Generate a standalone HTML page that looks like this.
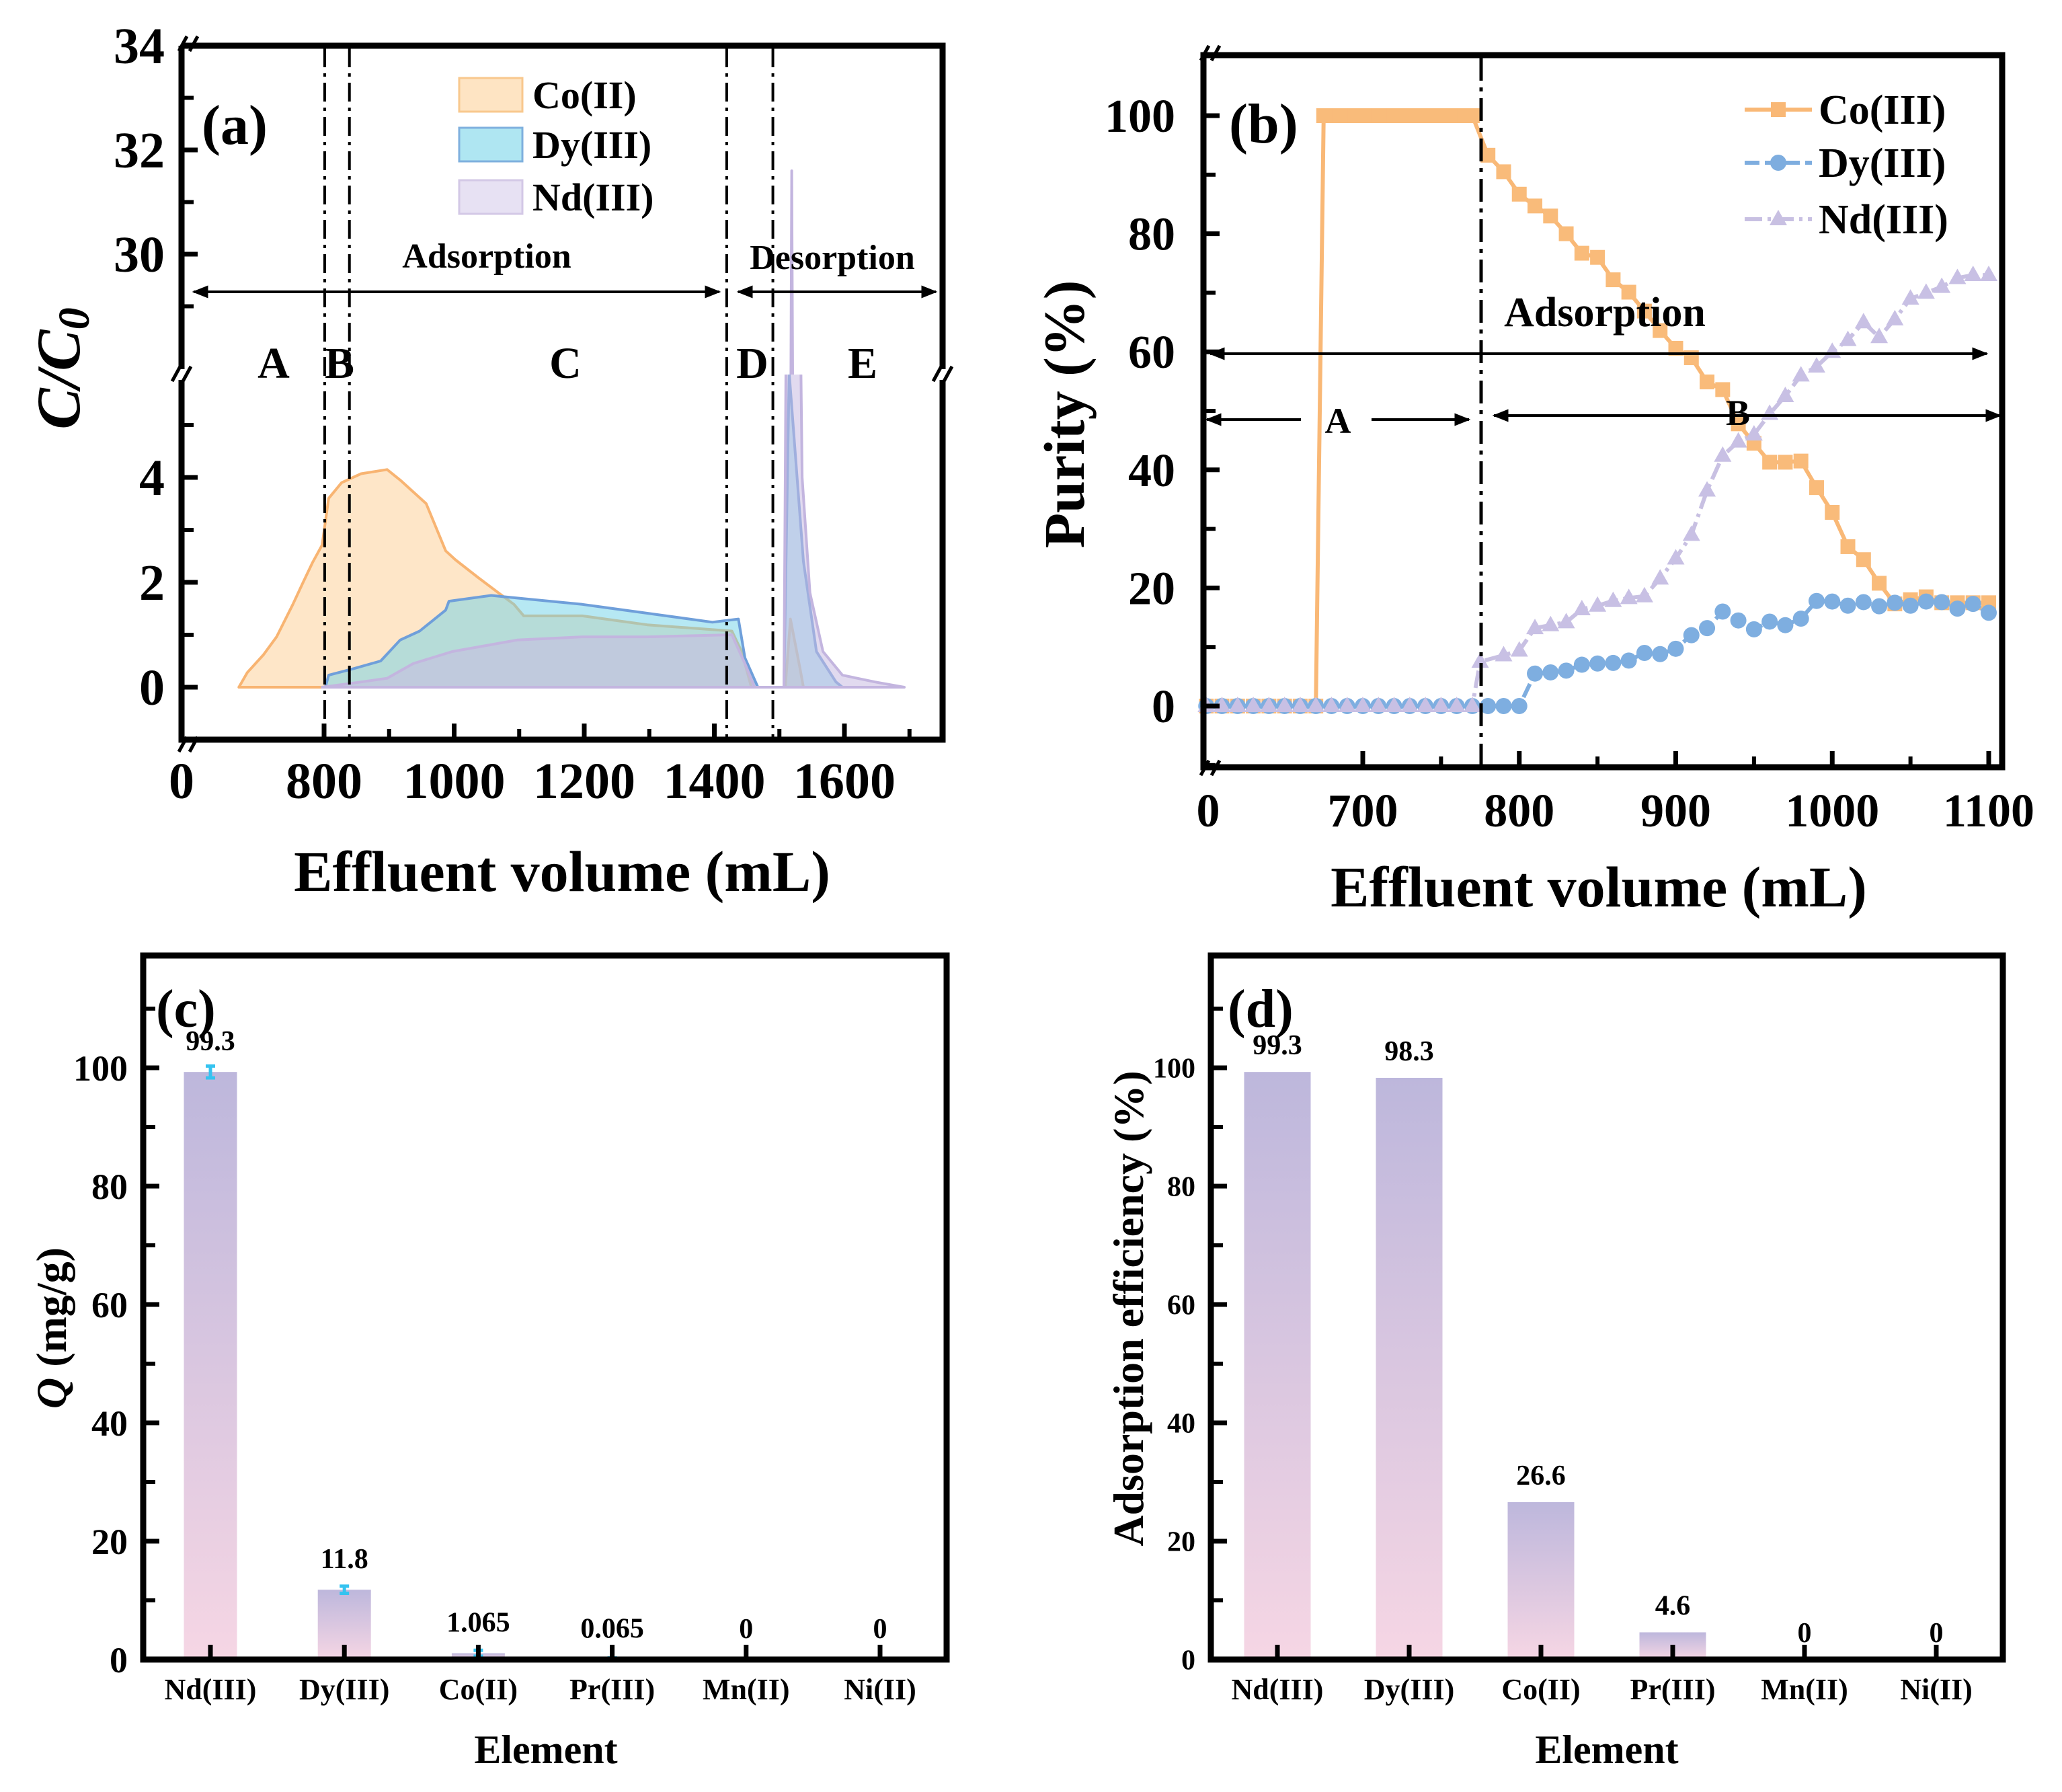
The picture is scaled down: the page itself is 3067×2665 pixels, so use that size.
<!DOCTYPE html>
<html><head><meta charset="utf-8"><style>
html,body{margin:0;padding:0;background:#fff}
svg{display:block}
text{font-family:"Liberation Serif",serif;font-weight:bold;fill:#000}
</style></head><body>
<svg id="fig" xmlns="http://www.w3.org/2000/svg" width="3067" height="2665" viewBox="0 0 3067 2665">
<defs>
<linearGradient id="barGrad" x1="0" y1="0" x2="0" y2="1">
<stop offset="0" stop-color="#bdb7dc"/><stop offset="1" stop-color="#f6d6e4"/>
</linearGradient>
<clipPath id="clipLow"><rect x="270" y="557" width="1132" height="543"/></clipPath>
<clipPath id="clipUp"><rect x="270" y="68" width="1132" height="489"/></clipPath>
<marker id="ah" viewBox="0 0 10 10" refX="9" refY="5" markerWidth="6" markerHeight="6" orient="auto-start-reverse"><path d="M0,1 L10,5 L0,9 z" fill="#000"/></marker>
</defs>
</svg>
<script>
// ---------- Panel (a) data ----------
const aCoX=[669,682,707,727,752,767,782,797,807,827,857,897,917,957,987,1002,1037,1067,1092,1107,1197,1297,1427,1442,1457,1509,1517,1532,1537];
const aCoY=[0,0.28,0.62,0.96,1.58,1.98,2.37,2.71,3.6,3.9,4.07,4.15,3.95,3.5,2.6,2.43,2.09,1.81,1.58,1.36,1.36,1.19,1.07,0.68,0,0,1.3,0.34,0];
const aDyX=[802,807,847,887,917,947,987,992,1057,1097,1197,1297,1397,1437,1447,1467,1507,1515,1537,1557,1587,1597];
const aDyY=[0,0.23,0.36,0.5,0.9,1.07,1.47,1.64,1.75,1.7,1.58,1.41,1.24,1.3,0.56,0,0,6.0,2.4,0.68,0.1,0];
const aNdX=[797,857,897,937,997,1097,1197,1297,1427,1447,1462,1507,1512,1519,1525,1535,1547,1567,1597,1647,1692];
const aNdY=[0,0.1,0.17,0.45,0.68,0.9,0.96,0.96,1.0,0.45,0,0,10,31.6,15,4,1.8,0.68,0.23,0.1,0];
const aXTicks=[800,1000,1200,1400,1600];
const aYLowTicks=[0,2,4];
const aYUpTicks=[30,32,34];
const aZones=[801,839,1419,1490];
// ---------- Panel (b) data ----------
const bCoX=[600,610,620,630,640,650,660,670,675,680,685,690,695,700,705,710,715,720,725,730,735,740,745,750,755,760,765,770,780,790,800,810,820,830,840,850,860,870,880,890,900,910,920,930,940,950,960,970,980,990,1000,1010,1020,1030,1040,1050,1060,1070,1080,1090,1100];
const bCoY=[0,0,0,0,0,0,0,0,100,100,100,100,100,100,100,100,100,100,100,100,100,100,100,100,100,100,100,100,93.3,90.5,86.7,84.7,83,80,76.7,76,72.2,70.1,66.9,63.6,60.6,59,54.9,53.6,47.8,44.5,41.3,41.3,41.5,37,32.8,27,24.8,20.8,17.3,18,18.5,17.5,17.5,17.5,17.5];
const bDyX=[600,610,620,630,640,650,660,670,680,690,700,710,720,730,740,750,760,770,780,790,800,810,820,830,840,850,860,870,880,890,900,910,920,930,940,950,960,970,980,990,1000,1010,1020,1030,1040,1050,1060,1070,1080,1090,1100];
const bDyY=[0,0,0,0,0,0,0,0,0,0,0,0,0,0,0,0,0,0,0,0,0,5.5,5.7,6,7,7.2,7.3,7.7,9,8.8,9.7,12,13.2,16,14.5,13,14.3,13.7,14.8,17.8,17.7,17,17.6,16.9,17.5,17,17.7,17.6,16.5,17.3,15.8];
const bNdX=[600,610,620,630,640,650,660,670,680,690,700,710,720,730,740,750,760,770,775,790,800,810,820,830,840,850,860,870,880,890,900,910,920,930,940,950,960,970,980,990,1000,1010,1020,1030,1040,1050,1060,1070,1080,1090,1100];
const bNdY=[0,0,0,0,0,0,0,0,0,0,0,0,0,0,0,0,0,0,7.5,8.6,9.4,13.2,13.7,14.2,16.4,17,17.8,18.3,18.6,21.6,25,29,36.5,42.4,44.8,46,49.5,52.5,56,57.5,60,62,65,62.5,65.5,69,70,71,72.5,73,73];
const bXTicks=[700,800,900,1000,1100];
const bYTicks=[0,20,40,60,80,100];
// ---------- Panel (c),(d) data ----------
const elements=["Nd(III)","Dy(III)","Co(II)","Pr(III)","Mn(II)","Ni(II)"];
const cVals=[99.3,11.8,1.065,0.065,0,0];
const cLabels=["99.3","11.8","1.065","0.065","0","0"];
const cErr=[1.0,0.6,0.5,0.2,0,0];
const dVals=[99.3,98.3,26.6,4.6,0,0];
const dLabels=["99.3","98.3","26.6","4.6","0","0"];
const barYTicks=[0,20,40,60,80,100];

const NS="http://www.w3.org/2000/svg";
const svg=document.getElementById('fig');
function mk(tag,attrs,parent,txt){const e=document.createElementNS(NS,tag);for(const k in attrs)e.setAttribute(k,attrs[k]);if(txt!==undefined)e.textContent=txt;(parent||svg).appendChild(e);return e;}
function grp(name){const g=document.createElementNS(NS,'g');


svg.appendChild(g);return g;}

// ================= Panel (a) =================
const xA=v=>482+(v-800)*0.9675;
const yLow=v=>1022-78*v;
const yUp=v=>378-77.5*(v-30);
const gA=grp('panel-a');
function areaPath(xs,ys,yf){let d='M'+xA(xs[0])+','+yf(0);for(let i=0;i<xs.length;i++)d+=' L'+xA(xs[i]).toFixed(1)+','+yf(ys[i]).toFixed(1);d+=' L'+xA(xs[xs.length-1])+','+yf(0)+' Z';return d;}
const series=[[aCoX,aCoY,'rgba(253,205,145,0.5)','#f8b472','co-area'],[aDyX,aDyY,'rgba(110,210,232,0.5)','#6f9fda','dy-area'],[aNdX,aNdY,'rgba(200,188,226,0.55)','#c3b5df','nd-area']];
[['clipLow',yLow],['clipUp',yUp]].forEach(([cp,yf])=>{
  const g=mk('g',{'clip-path':'url(#'+cp+')'},gA);
  series.forEach(s=>{const p=mk('path',{d:areaPath(s[0],s[1],yf),fill:s[2],stroke:s[3],'stroke-width':4,'stroke-linejoin':'round'},g);
  
  });
});
aZones.forEach(z=>{const l=mk('line',{x1:xA(z),x2:xA(z),y1:72,y2:1096,stroke:'#000','stroke-width':4,'stroke-dasharray':'28,9,5,9'},gA);

});
mk('path',{d:'M270,68 L1402,68 L1402,549 M1402,565 L1402,1100 L270,1100 L270,565 M270,549 L270,68',fill:'none',stroke:'#000','stroke-width':9},gA);
function brk(x,y,g){mk('line',{x1:x-14,y1:y+10,x2:x-2,y2:y-12,stroke:'#000','stroke-width':5},g);mk('line',{x1:x+2,y1:y+10,x2:x+14,y2:y-12,stroke:'#000','stroke-width':5},g);}
brk(270,557,gA);brk(1402,557,gA);brk(280,1108,gA);brk(280,66,gA);
aXTicks.forEach(t=>{mk('line',{x1:xA(t),x2:xA(t),y1:1096,y2:1076,stroke:'#000','stroke-width':7},gA);
mk('text',{x:xA(t),y:1187,'font-size':76,'text-anchor':'middle'},gA,String(t));});
[900,1100,1300,1500,1700].forEach(t=>mk('line',{x1:xA(t),x2:xA(t),y1:1096,y2:1084,stroke:'#000','stroke-width':6},gA));
mk('text',{x:270,y:1187,'font-size':76,'text-anchor':'middle'},gA,'0');
aYLowTicks.forEach(t=>{mk('line',{x1:274,x2:294,y1:yLow(t),y2:yLow(t),stroke:'#000','stroke-width':7},gA);
mk('text',{x:245,y:yLow(t)+26,'font-size':76,'text-anchor':'end'},gA,String(t));});
[1,3,5].forEach(t=>mk('line',{x1:274,x2:288,y1:yLow(t),y2:yLow(t),stroke:'#000','stroke-width':6},gA));
aYUpTicks.forEach(t=>{mk('line',{x1:274,x2:294,y1:yUp(t),y2:yUp(t),stroke:'#000','stroke-width':7},gA);
mk('text',{x:245,y:yUp(t)+26,'font-size':76,'text-anchor':'end'},gA,String(t));});
[29,31,33].forEach(t=>mk('line',{x1:274,x2:288,y1:yUp(t),y2:yUp(t),stroke:'#000','stroke-width':6},gA));
mk('line',{x1:288,y1:434,x2:1070,y2:434,stroke:'#000','stroke-width':4,'marker-start':'url(#ah)','marker-end':'url(#ah)'},gA);
mk('line',{x1:1098,y1:434,x2:1392,y2:434,stroke:'#000','stroke-width':4,'marker-start':'url(#ah)','marker-end':'url(#ah)'},gA);
mk('text',{x:724,y:398,'font-size':52,'text-anchor':'middle'},gA,'Adsorption');
mk('text',{x:1238,y:400,'font-size':52,'text-anchor':'middle'},gA,'Desorption');
[['A',407],['B',505],['C',841],['D',1119],['E',1283]].forEach(([t,x])=>mk('text',{x:x,y:562,'font-size':66,'text-anchor':'middle'},gA,t));
mk('text',{x:300,y:214,'font-size':84},gA,'(a)');
[['Co(II)','rgba(253,205,145,0.55)','#f8c88e',141],['Dy(III)','rgba(110,210,232,0.55)','#7fb0de',215],['Nd(III)','rgba(215,205,235,0.6)','#d3c8e6',293]].forEach(([t,f,s,y])=>{
 mk('rect',{x:683,y:y-25,width:94,height:50,fill:f,stroke:s,'stroke-width':3},gA);
 mk('text',{x:792,y:y+20,'font-size':58},gA,t);});
mk('text',{transform:'translate(118,548) rotate(-90)','font-size':92,'font-style':'italic','text-anchor':'middle'},gA).innerHTML='C/C<tspan font-size="66" dy="14">0</tspan>';
mk('text',{x:836,y:1325,'font-size':86,'text-anchor':'middle'},gA,'Effluent volume (mL)');

// ================= Panel (b) =================
const xB=v=>2027+(v-700)*2.3275;
const yB=v=>1050-8.78*v;
const gB=grp('panel-b');
function line(xs,ys,col,w,dash,g){let d='';xs.forEach((x,i)=>d+=(i?' L':'M')+xB(x).toFixed(1)+','+yB(ys[i]).toFixed(1));return mk('path',{d:d,fill:'none',stroke:col,'stroke-width':w,'stroke-dasharray':dash||'none'},g);}
const coL=line(bCoX,bCoY,'#f9b876',6,null,gB);


const ndL=line(bNdX,bNdY,'#c8c0e2',6,'26,8,5,8',gB);


const dyL=line(bDyX,bDyY,'#7eaddf',6,'22,8',gB);


bCoX.forEach((x,i)=>mk('rect',{x:xB(x)-11,y:yB(bCoY[i])-11,width:22,height:22,fill:'#f9bb7a'},gB));
bDyX.forEach((x,i)=>mk('circle',{cx:xB(x),cy:yB(bDyY[i]),r:12,fill:'#7eaee0'},gB));
bNdX.forEach((x,i)=>{const cx=xB(x),cy=yB(bNdY[i]);mk('path',{d:`M${cx},${cy-14} L${cx+13},${cy+9} L${cx-13},${cy+9} Z`,fill:'#c8c0e4'},gB);});
mk('line',{x1:2203,x2:2203,y1:86,y2:1138,stroke:'#000','stroke-width':5,'stroke-dasharray':'34,10,6,10'},gB);
mk('path',{d:'M1790,82 L2978,82 L2978,1141 L1790,1141 Z',fill:'none',stroke:'#000','stroke-width':9},gB);
brk(1800,80,gB);brk(1800,1143,gB);
bXTicks.forEach(t=>{mk('line',{x1:xB(t),x2:xB(t),y1:1137,y2:1117,stroke:'#000','stroke-width':7},gB);
mk('text',{x:xB(t),y:1229,'font-size':70,'text-anchor':'middle'},gB,String(t));});
[750,850,950,1050].forEach(t=>mk('line',{x1:xB(t),x2:xB(t),y1:1137,y2:1125,stroke:'#000','stroke-width':6},gB));
mk('text',{x:1797,y:1229,'font-size':70,'text-anchor':'middle'},gB,'0');
bYTicks.forEach(t=>{mk('line',{x1:1794,x2:1814,y1:yB(t),y2:yB(t),stroke:'#000','stroke-width':7},gB);
mk('text',{x:1748,y:yB(t)+24,'font-size':70,'text-anchor':'end'},gB,String(t));});
[-10,10,30,50,70,90,110].forEach(t=>{if(yB(t)<1138&&yB(t)>86)mk('line',{x1:1794,x2:1808,y1:yB(t),y2:yB(t),stroke:'#000','stroke-width':6},gB);});
mk('line',{x1:1800,y1:526,x2:2955,y2:526,stroke:'#000','stroke-width':4,'marker-start':'url(#ah)','marker-end':'url(#ah)'},gB);
mk('line',{x1:1795,y1:624,x2:1935,y2:624,stroke:'#000','stroke-width':4,'marker-start':'url(#ah)'},gB);
mk('line',{x1:2040,y1:624,x2:2185,y2:624,stroke:'#000','stroke-width':4,'marker-end':'url(#ah)'},gB);
mk('line',{x1:2222,y1:618,x2:2975,y2:618,stroke:'#000','stroke-width':4,'marker-start':'url(#ah)','marker-end':'url(#ah)'},gB);
mk('text',{x:1990,y:644,'font-size':54,'text-anchor':'middle'},gB,'A');
mk('text',{x:2585,y:632,'font-size':54,'text-anchor':'middle'},gB,'B');
mk('text',{x:2387,y:485,'font-size':62,'text-anchor':'middle'},gB,'Adsorption');
mk('text',{x:1828,y:212,'font-size':84},gB,'(b)');
[['Co(III)','#f9b876',163,'sq'],['Dy(III)','#7eaddf',242,'ci'],['Nd(III)','#c8c0e2',326,'tr']].forEach(([t,c,y,m])=>{
 mk('line',{x1:2595,x2:2695,y1:y,y2:y,stroke:c,'stroke-width':6,'stroke-dasharray':m==='sq'?'none':(m==='ci'?'22,8':'26,8,5,8')},gB);
 if(m==='sq')mk('rect',{x:2634,y:y-11,width:22,height:22,fill:c},gB);
 else if(m==='ci')mk('circle',{cx:2645,cy:y,r:12,fill:c},gB);
 else mk('path',{d:`M2645,${y-14} L2658,${y+9} L2632,${y+9} Z`,fill:c},gB);
 mk('text',{x:2705,y:y+21,'font-size':62},gB,t);});
mk('text',{transform:'translate(1612,616) rotate(-90)','font-size':86,'text-anchor':'middle'},gB,'Purity (%)');
mk('text',{x:2378,y:1348,'font-size':86,'text-anchor':'middle'},gB,'Effluent volume (mL)');

// ================= Bar panels =================
function barPanel(name,left,right,centers,bw,vals,labels,errs,tickFont,tickRight,lblName,yTitle,titleX,tag,tagX){
 const g=grp(name);
 const yC=v=>2468-8.8*v;
 vals.forEach((v,i)=>{
  const r=mk('rect',{x:centers[i]-bw/2,y:yC(v),width:bw,height:Math.max(0,2468-yC(v)),fill:'url(#barGrad)'},g);
  
  
  if(errs&&errs[i]>0){const e=errs[i];mk('path',{d:`M${centers[i]},${yC(v+e)} L${centers[i]},${yC(v-e)} M${centers[i]-7},${yC(v+e)} L${centers[i]+7},${yC(v+e)} M${centers[i]-7},${yC(v-e)} L${centers[i]+7},${yC(v-e)}`,stroke:'#35c3f0','stroke-width':5,fill:'none'},g);}
  mk('text',{x:centers[i],y:yC(v)-(errs?32:26),'font-size':42,'text-anchor':'middle'},g,labels[i]);
  mk('line',{x1:centers[i],x2:centers[i],y1:2464,y2:2446,stroke:'#000','stroke-width':7},g);
  mk('text',{x:centers[i],y:2527,'font-size':44,'text-anchor':'middle'},g,elements[i]);
 });
 mk('path',{d:`M${left},1421 L${right},1421 L${right},2468 L${left},2468 Z`,fill:'none',stroke:'#000','stroke-width':9},g);
 barYTicks.forEach(t=>{mk('line',{x1:left+4,x2:left+24,y1:yC(t),y2:yC(t),stroke:'#000','stroke-width':7},g);
 mk('text',{x:tickRight,y:yC(t)+tickFont*0.35,'font-size':tickFont,'text-anchor':'end'},g,String(t));});
 [10,30,50,70,90,110].forEach(t=>mk('line',{x1:left+4,x2:left+18,y1:yC(t),y2:yC(t),stroke:'#000','stroke-width':6},g));
 mk('text',{x:lblName,y:2622,'font-size':60,'text-anchor':'middle'},g,'Element');
 mk('text',{x:tagX,y:1527,'font-size':80},g,tag);
 return g;
}
const cCenters=elements.map((e,i)=>313+i*199.2);
const dCenters=elements.map((e,i)=>1900+i*196);
const gC=barPanel('panel-c',213,1408,cCenters,79,cVals,cLabels,cErr,54,190,812,'',0,'(c)',232);
mk('text',{transform:'translate(98,1975) rotate(-90)','font-size':64,'text-anchor':'middle'},gC).innerHTML='<tspan font-style="italic">Q</tspan> (mg/g)';
const gD=barPanel('panel-d',1801,2979,dCenters,99,dVals,dLabels,null,42,1778,2390,'',0,'(d)',1826);
mk('text',{transform:'translate(1700,1946) rotate(-90)','font-size':64,'text-anchor':'middle'},gD,'Adsorption efficiency (%)');
</script>
</body></html>
